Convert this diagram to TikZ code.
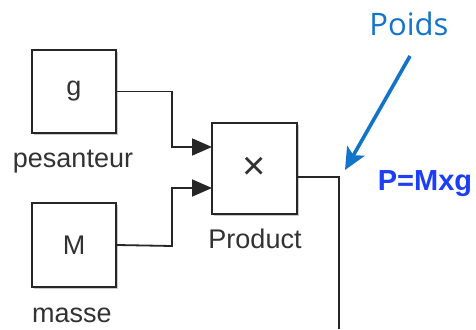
\documentclass[tikz,border=0pt]{standalone}
\usepackage{fontspec}
\setmainfont{Liberation Sans}
\newfontfamily\calloutfont{Open Sans}
\usetikzlibrary{arrows.meta,shadows}
\definecolor{calloutblue}{RGB}{18,116,200}
\definecolor{formulablue}{RGB}{28,62,246}
\definecolor{inktext}{RGB}{50,50,50}
\tikzset{
  block/.style={draw=black!85, line width=2.1pt, fill=white, minimum width=84pt,
    minimum height=83pt, inner sep=0pt, font=\fontsize{27}{30}\selectfont, text=inktext,
    drop shadow={shadow xshift=1.5pt, shadow yshift=-2pt, opacity=0.35, fill=black!60}},
  blocklabel/.style={anchor=base, font=\fontsize{27}{30}\selectfont, text=inktext, inner sep=0pt},
  wire/.style={draw=black!85, line width=1.8pt},
  feed/.style={wire, -{Triangle[length=20pt,width=17pt]}},
}
\begin{document}
\begin{tikzpicture}[x=1pt,y=-1pt]
  \useasboundingbox[fill=white] (0,0) rectangle (476,329);

  % source blocks and the multiplier
  \node[block] (g) at (74,91.5) {g};
  \node[block, minimum height=84pt] (m) at (74,245) {M};
  \node[block, minimum width=85pt, minimum height=91pt, font=\fontsize{40}{42}\selectfont] (prod) at (254.5,168.5) {×};

  \node[blocklabel] (glab) at (73,167) {pesanteur};
  \node[blocklabel] (mlab) at (72,322) {masse};
  \node[blocklabel] (plab) at (255,248) {Product};

  % multiplier ports
  \coordinate (in1) at (212,147);
  \coordinate (in2) at (212,188);
  \coordinate (out) at (297,177);
  \coordinate (down) at (339,329);

  \draw[feed] (g.east) -- (172,91.5) |- (in1);
  \draw[feed] (m.east) -- (172,246) |- (in2);
  \draw[wire] (out) -| (down);

  % callout
  \node[font=\calloutfont\fontsize{31}{34}\selectfont, text=calloutblue, inner sep=0pt] (poids) at (409,24) {Poids};
  \coordinate (ptail) at (410,56);
  \coordinate (ptip) at (345,170);
  \draw[calloutblue, line width=3.6pt, -{Stealth[length=22pt,width=20pt,inset=5pt]}] (ptail) -- (ptip);

  \node[font=\fontsize{29}{32}\selectfont\bfseries, text=formulablue, inner sep=0pt] (formula) at (425,184) {P=Mxg};
\end{tikzpicture}
\end{document}
